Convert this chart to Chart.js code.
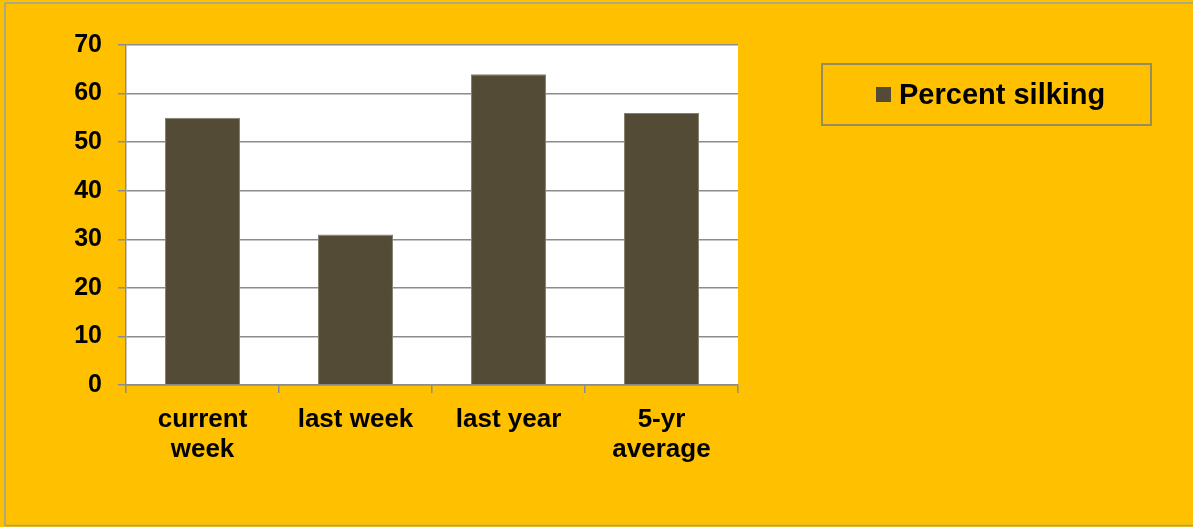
<!DOCTYPE html>
<html>
<head>
<meta charset="utf-8">
<script src="https://cdn.jsdelivr.net/npm/chart.js@4"></script>
<style>
  body { margin: 0; background: #FFC000; }
  canvas { display: block; }
</style>
</head>
<body>
<canvas id="silkChart" width="1193" height="527"></canvas>
<script>
// ==========================
// DATA
// ==========================

const categories = [["current", "week"], "last week", "last year", ["5-yr", "average"]];
const seriesName = "Percent silking";
const silkingValues = [55, 31, 64, 56];
const yTicks = [0, 10, 20, 30, 40, 50, 60, 70];

const barColor = "#534B35";
const gridColor = "#8C8C8C";

// ==========================
// BACKGROUND + LEGEND PLUGIN
// ==========================

const framePlugin = {
    id: "frame",
    beforeDraw(chart){
        const ctx = chart.ctx;
        const a = chart.chartArea;
        ctx.save();
        ctx.fillStyle = "#FFC000";
        ctx.fillRect(0, 0, chart.width, chart.height);
        ctx.strokeStyle = "#8EA3AE";
        ctx.lineWidth = 1.5;
        ctx.strokeRect(5, 3, chart.width + 10, chart.height - 4.5);
        ctx.fillStyle = "#FFFFFF";
        ctx.fillRect(a.left, a.top, a.right - a.left, a.bottom - a.top);
        ctx.restore();
    },
    afterDraw(chart){
        const ctx = chart.ctx;
        const ds = chart.data.datasets[0];
        ctx.save();
        ctx.strokeStyle = "#978D5C";
        ctx.lineWidth = 2;
        ctx.strokeRect(822, 64, 329, 61);
        ctx.fillStyle = ds.backgroundColor;
        ctx.fillRect(876, 87, 15, 15);
        ctx.fillStyle = "#000000";
        ctx.font = "bold 29px 'Liberation Sans', Arial, sans-serif";
        ctx.textBaseline = "alphabetic";
        ctx.fillText(ds.label, 899, 104);
        ctx.restore();
    }
};

// ==========================
// CHART
// ==========================

new Chart(document.getElementById("silkChart"), {

    type: "bar",

    data: {
        labels: categories,
        datasets: [{
            label: seriesName,
            data: silkingValues,
            backgroundColor: barColor,
            borderColor: "#85806E",
            borderWidth: 1,
            categoryPercentage: 1,
            barPercentage: 0.49
        }]
    },

    options: {
        responsive: false,
        animation: false,
        layout: {
            padding: { left: 5, right: 455, top: 45, bottom: 0 }
        },
        plugins: {
            legend: { display: false },
            tooltip: { enabled: false }
        },
        scales: {
            x: {
                offset: true,
                afterFit: s => { s.height = 142; },
                grid: {
                    offset: true,
                    drawOnChartArea: false,
                    drawTicks: true,
                    tickLength: 8,
                    color: gridColor,
                    lineWidth: 1.5
                },
                border: { color: gridColor, width: 1.5 },
                ticks: {
                    color: "#000000",
                    padding: 12,
                    maxRotation: 0,
                    font: { family: "'Liberation Sans', Arial, sans-serif", size: 26, weight: "bold", lineHeight: 1.15 }
                }
            },
            y: {
                min: 0,
                max: 70,
                afterFit: s => { s.width = 121; },
                afterBuildTicks: s => { s.ticks = yTicks.map(v => ({ value: v })); },
                grid: {
                    color: gridColor,
                    lineWidth: 1.5,
                    tickLength: 8
                },
                border: { color: gridColor, width: 1.5 },
                ticks: {
                    color: "#000000",
                    padding: 16,
                    font: { family: "'Liberation Sans', Arial, sans-serif", size: 25, weight: "bold" }
                }
            }
        }
    },

    plugins: [framePlugin]

});
</script>
</body>
</html>
